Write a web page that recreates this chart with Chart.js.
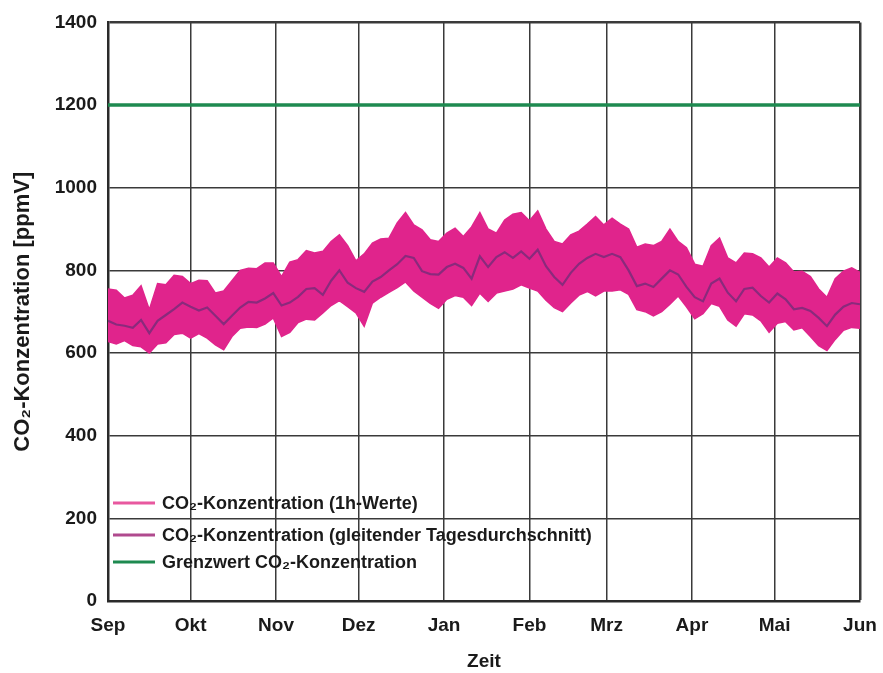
<!DOCTYPE html>
<html>
<head>
<meta charset="utf-8">
<script src="https://cdn.jsdelivr.net/npm/chart.js@4.4.1/dist/chart.umd.min.js"></script>
<style>
  html, body { margin: 0; padding: 0; background: #ffffff; }
  #wrap { width: 883px; height: 673px; position: relative; }
</style>
</head>
<body>
<div id="wrap"><canvas id="c" width="883" height="673"></canvas></div>
<script>
// Days since 1 Sep (sampling grid of the read-off envelopes)
const days = [0,3,6,9,12,15,18,21,24,27,30,33,36,39,42,45,48,51,54,57,60,63,66,69,72,75,78,81,84,87,90,93,96,99,102,105,108,111,114,117,120,123,126,129,132,135,138,141,144,147,150,153,156,159,162,165,168,171,174,177,180,183,186,189,192,195,198,201,204,207,210,213,216,219,222,225,228,231,234,237,240,243,246,249,252,255,258,261,264,267,270,273];

// Upper envelope of the 1h values (ppmV)
const hourlyMax = [755,752,733,740,763,705,768,765,788,785,768,776,775,745,750,775,800,805,804,818,818,785,820,826,848,842,846,870,886,860,823,840,866,876,878,915,940,910,898,874,870,890,902,882,905,940,900,890,922,936,940,920,944,900,870,864,886,895,912,930,910,926,912,900,856,864,860,870,900,870,855,815,810,860,878,830,818,842,840,830,808,830,818,796,798,785,755,735,780,798,806,795];

// Lower envelope of the 1h values (ppmV)
const hourlyMin = [628,622,630,618,615,600,622,625,645,648,636,647,636,620,608,640,660,663,662,670,685,640,650,674,682,680,697,715,727,712,697,665,721,735,747,758,772,750,735,720,708,730,739,735,715,745,725,745,750,755,765,757,750,728,710,700,721,740,749,738,750,750,753,742,705,700,690,700,718,738,712,683,695,720,713,680,665,695,692,678,650,672,676,656,661,640,618,606,633,655,662,660];

// Moving daily average (ppmV)
const dailyMean = [678,669,666,661,680,648,678,692,706,722,712,703,710,690,670,690,710,724,722,732,745,715,722,736,755,757,741,775,800,770,757,748,773,784,800,815,835,830,798,791,790,808,816,806,780,834,808,832,844,830,846,828,850,810,784,765,794,816,830,840,832,840,832,800,762,768,760,780,800,790,760,735,725,768,780,746,725,755,758,738,722,744,730,706,709,702,685,665,693,712,721,718];

// Limit value
const limitDays = [0, 273];
const limitValues = [1200, 1200];

// Axis ticks
const monthDays = [0,30,61,91,122,153,181,212,242,273];
const monthLabels = ['Sep','Okt','Nov','Dez','Jan','Feb','Mrz','Apr','Mai','Jun'];
const yTicks = [0,200,400,600,800,1000,1200,1400];

const legendLabels = [
  'CO\u2082-Konzentration (1h-Werte)',
  'CO\u2082-Konzentration (gleitender Tagesdurchschnitt)',
  'Grenzwert CO\u2082-Konzentration'
];

const COL_BAND = '#e0248c';
const COL_BAND_LEG = '#e8589f';
const COL_MEAN = '#8a2a7c';
const COL_MEAN_LEG = '#b04a8e';
const COL_LIMIT = '#1e8a50';
const FONT = '"Liberation Sans", Arial, sans-serif';

const toXY = (xs, ys) => xs.map((x, i) => ({ x: x, y: ys[i] }));

const legendPlugin = {
  id: 'inlineLegend',
  afterDraw(chart) {
    const ctx = chart.ctx;
    const a = chart.chartArea;
    const cols = [COL_BAND_LEG, COL_MEAN_LEG, COL_LIMIT];
    const rows = [a.bottom - 98, a.bottom - 66, a.bottom - 39];
    ctx.save();
    ctx.font = 'bold 18px ' + FONT;
    ctx.textBaseline = 'middle';
    ctx.fillStyle = '#1a1a1a';
    rows.forEach((y, i) => {
      ctx.strokeStyle = cols[i];
      ctx.lineWidth = 3;
      ctx.beginPath();
      ctx.moveTo(a.left + 5, y);
      ctx.lineTo(a.left + 47, y);
      ctx.stroke();
      ctx.fillText(legendLabels[i], a.left + 54, y + 1);
    });
    ctx.restore();
  }
};

new Chart(document.getElementById('c'), {
  type: 'line',
  data: {
    datasets: [
      {
        label: 'mean',
        data: toXY(days, dailyMean),
        borderColor: COL_MEAN,
        borderWidth: 2.2,
        pointRadius: 0,
        fill: false,
        tension: 0,
        order: 0
      },
      {
        label: 'limit',
        data: toXY(limitDays, limitValues),
        borderColor: COL_LIMIT,
        borderWidth: 3.5,
        pointRadius: 0,
        fill: false,
        order: 1
      },
      {
        label: 'max',
        data: toXY(days, hourlyMax),
        borderColor: COL_BAND,
        backgroundColor: COL_BAND,
        borderWidth: 1.5,
        pointRadius: 0,
        fill: 3,
        tension: 0,
        order: 2
      },
      {
        label: 'min',
        data: toXY(days, hourlyMin),
        borderColor: COL_BAND,
        borderWidth: 1.5,
        pointRadius: 0,
        fill: false,
        tension: 0,
        order: 3
      }
    ]
  },
  options: {
    responsive: false,
    animation: false,
    events: [],
    layout: { padding: { top: 20, right: 23, left: 0, bottom: 0 } },
    plugins: {
      legend: { display: false },
      tooltip: { enabled: false },
      filler: { propagate: false }
    },
    scales: {
      x: {
        type: 'linear',
        min: 0,
        max: 273,
        afterBuildTicks(scale) { scale.ticks = monthDays.map(v => ({ value: v })); },
        afterFit(scale) { scale.height = 72; scale.paddingRight = 0; scale.paddingLeft = 0; },
        ticks: {
          autoSkip: false,
          maxRotation: 0,
          padding: 13,
          color: '#1a1a1a',
          font: { family: FONT, size: 19, weight: 'bold' },
          callback: (v) => monthLabels[monthDays.indexOf(v)]
        },
        grid: {
          color: '#3a3a3a',
          lineWidth: (c) => (c.tick && c.tick.value === 273 ? 2.5 : 1.5),
          drawTicks: false
        },
        border: { color: '#2a2a2a', width: 2.5 },
        title: {
          display: true,
          text: 'Zeit',
          color: '#1a1a1a',
          font: { family: FONT, size: 19, weight: 'bold' },
          padding: { top: 0, bottom: 0 }
        }
      },
      y: {
        min: 0,
        max: 1400,
        afterBuildTicks(scale) { scale.ticks = yTicks.map(v => ({ value: v })); },
        afterFit(scale) { scale.width = 108; },
        ticks: {
          padding: 11,
          color: '#1a1a1a',
          font: { family: FONT, size: 19, weight: 'bold' },
          callback: (v) => String(v)
        },
        grid: {
          color: '#3a3a3a',
          lineWidth: (c) => (c.tick && c.tick.value === 1400 ? 2.5 : 1.5),
          drawTicks: false
        },
        border: { color: '#2a2a2a', width: 2.5 },
        title: {
          display: true,
          text: 'CO\u2082-Konzentration [ppmV]',
          color: '#1a1a1a',
          font: { family: FONT, size: 22, weight: 'bold' },
          padding: { top: 10, bottom: 0 }
        }
      }
    }
  },
  plugins: [legendPlugin]
});
</script>
</body>
</html>
